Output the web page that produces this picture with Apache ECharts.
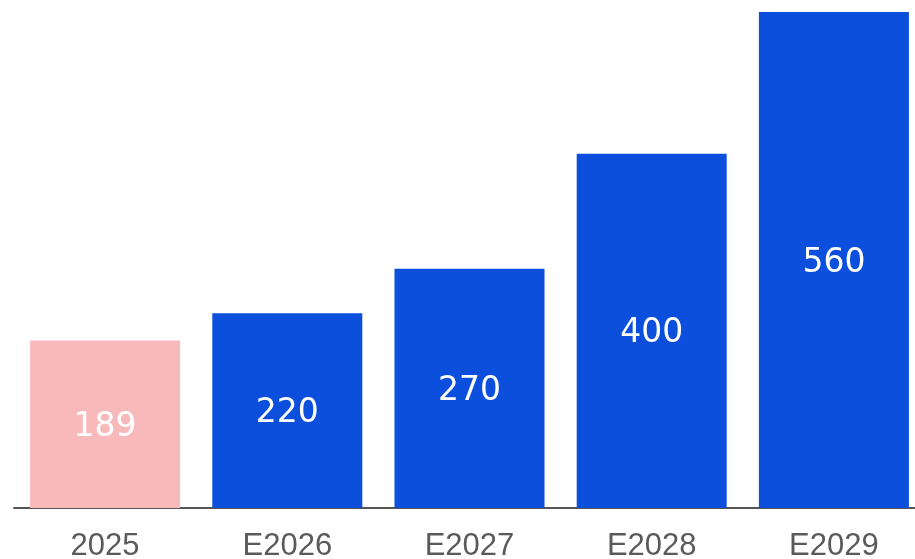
<!DOCTYPE html>
<html><head><meta charset="utf-8">
<script src="https://cdn.jsdelivr.net/npm/echarts@6/dist/echarts.min.js"></script>
<style>html,body{margin:0;padding:0;background:#fff}#c{width:915px;height:559px}</style>
</head><body><div id="c"></div>
<script>
const categories = ['2025', 'E2026', 'E2027', 'E2028', 'E2029'];
const values = [189, 220, 270, 400, 560];
const barColors = ['#f8b9ba', '#0b4fdc', '#0b4fdc', '#0b4fdc', '#0b4fdc'];

const chart = echarts.init(document.getElementById('c'), null, {renderer: 'canvas'});
chart.setOption({
  animation: false,
  grid: {left: 14, top: 12, width: 911, height: 496, containLabel: false, outerBoundsMode: 'none'},
  xAxis: {
    type: 'category',
    data: categories,
    axisTick: {show: false},
    axisLine: {lineStyle: {color: '#555555', width: 2}},
    axisLabel: {color: '#5a5a5a', fontSize: 31, fontFamily: 'Liberation Sans, Arial, sans-serif', margin: 23}
  },
  yAxis: {type: 'value', min: 0, max: 560, show: false, splitLine: {show: false}},
  series: [{
    type: 'bar',
    barWidth: 150,
    data: values.map((v, i) => ({value: v, itemStyle: {color: barColors[i]}})),
    label: {show: true, position: 'inside', offset: [0, 3], color: '#ffffff', fontSize: 33, fontFamily: 'DejaVu Sans, sans-serif'}
  }]
});
</script></body></html>
